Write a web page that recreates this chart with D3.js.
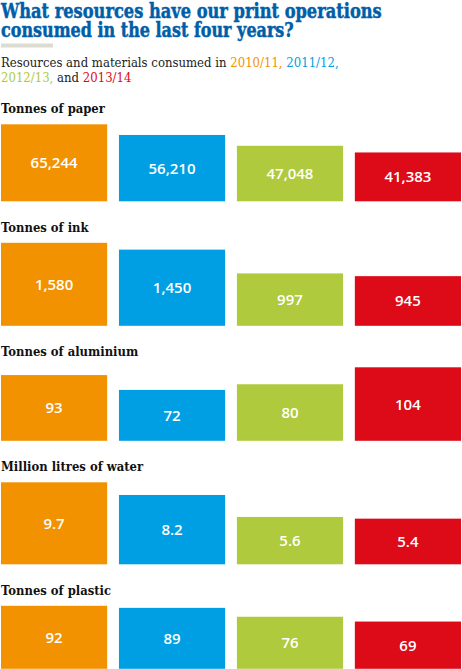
<!DOCTYPE html>
<html>
<head>
<meta charset="utf-8">
<script src="https://cdn.jsdelivr.net/npm/d3@7"></script>
<style>
  html, body { margin: 0; padding: 0; background: #fff; }
  svg { display: block; }
</style>
</head>
<body>
<div id="chart"></div>
<script>
// years and their colours
const years = ['2010/11', '2011/12', '2012/13', '2013/14'];
const colors = ['#f39200', '#009fe3', '#afca3d', '#dc0b17'];

// one label and one series per resource
const categories = ['Tonnes of paper', 'Tonnes of ink', 'Tonnes of aluminium', 'Million litres of water', 'Tonnes of plastic'];
const paper = [65244, 56210, 47048, 41383];
const ink = [1580, 1450, 997, 945];
const aluminium = [93, 72, 80, 104];
const water = [9.7, 8.2, 5.6, 5.4];
const plastic = [92, 89, 76, 69];
const series = [paper, ink, aluminium, water, plastic];

const width = 462, height = 669;
// tallest bar of each group, in px
const groupHeights = [77, 83, 73.5, 82, 63];

const svg = d3.select('#chart').append('svg')
    .attr('width', width)
    .attr('height', height);

// squeeze a text sideways so it spans the wanted width; returns the factor
function condense(sel, target, sx) {
    const x0 = +sel.attr('x'), y0 = +sel.attr('y');
    if (sx === undefined) sx = target / sel.node().getComputedTextLength();
    sel.attr('x', 0).attr('y', 0)
       .attr('transform', `translate(${x0},${y0}) scale(${sx},1)`);
    return sx;
}

// title
[['What resources have our print operations', 18.3, 381],
 ['consumed in the last four years?', 36.5, 293]].forEach(function (d) {
    const t = svg.append('text')
        .attr('x', 1)
        .attr('y', d[1])
        .attr('font-family', 'DejaVu Serif')
        .attr('font-weight', 'bold')
        .attr('font-size', 20.5)
        .attr('fill', '#005ea8')
        .attr('stroke', '#005ea8')
        .attr('stroke-width', 0.5)
        .text(d[0]);
    condense(t, d[2]);
});

svg.append('rect')
    .attr('x', 1)
    .attr('y', 43.5)
    .attr('width', 52)
    .attr('height', 4)
    .attr('fill', '#dcdcd3');

// subtitle with the years in colour
const sub1 = svg.append('text')
    .attr('x', 1)
    .attr('y', 66.5)
    .attr('font-family', 'DejaVu Serif')
    .attr('font-size', 13.5)
    .attr('fill', '#222');
sub1.append('tspan').text('Resources and materials consumed in ');
sub1.append('tspan').attr('fill', colors[0]).text(years[0] + ', ');
sub1.append('tspan').attr('fill', colors[1]).text(years[1] + ',');
const subSx = condense(sub1, 338);

const sub2 = svg.append('text')
    .attr('x', 1)
    .attr('y', 82)
    .attr('font-family', 'DejaVu Serif')
    .attr('font-size', 13.5)
    .attr('fill', '#222');
sub2.append('tspan').attr('fill', colors[2]).text(years[2] + ',');
sub2.append('tspan').text(' and ');
sub2.append('tspan').attr('fill', colors[3]).text(years[3]);
condense(sub2, null, subSx);

// bar positions across the width
const x = d3.scaleBand()
    .domain(years)
    .range([1, 461])
    .paddingInner(0.1);

const fmt = d3.format(',');

let labelY = 113.3, labelSx;
categories.forEach(function (cat, i) {
    const values = series[i],
        top = labelY + 11,
        bottom = top + groupHeights[i];

    const label = svg.append('text')
        .attr('x', 1)
        .attr('y', labelY)
        .attr('font-family', 'DejaVu Serif')
        .attr('font-weight', 'bold')
        .attr('font-size', 13)
        .attr('fill', '#111')
        .text(cat);
    // "Tonnes of paper" sets the squeeze for every group label
    labelSx = condense(label, 104, labelSx);

    const y = d3.scaleLinear()
        .domain([0, d3.max(values)])
        .range([bottom, top]);

    const g = svg.append('g').attr('class', 'group');

    g.selectAll('rect')
        .data(values)
        .enter()
        .append('rect')
        .attr('x', function (d, j) { return x(years[j]); })
        .attr('y', function (d) { return y(d); })
        .attr('width', x.bandwidth())
        .attr('height', function (d) { return bottom - y(d); })
        .attr('fill', function (d, j) { return colors[j]; });

    g.selectAll('text')
        .data(values)
        .enter()
        .append('text')
        .attr('x', function (d, j) { return x(years[j]) + x.bandwidth() / 2; })
        .attr('y', function (d) { return (y(d) + bottom) / 2 + 5.5; })
        .attr('text-anchor', 'middle')
        .attr('font-family', 'Open Sans')
        .attr('font-weight', 600)
        .attr('font-size', 15)
        .attr('fill', '#fff')
        .text(function (d) { return fmt(d); });

    labelY = bottom + 30.5;
});
</script>
</body>
</html>
